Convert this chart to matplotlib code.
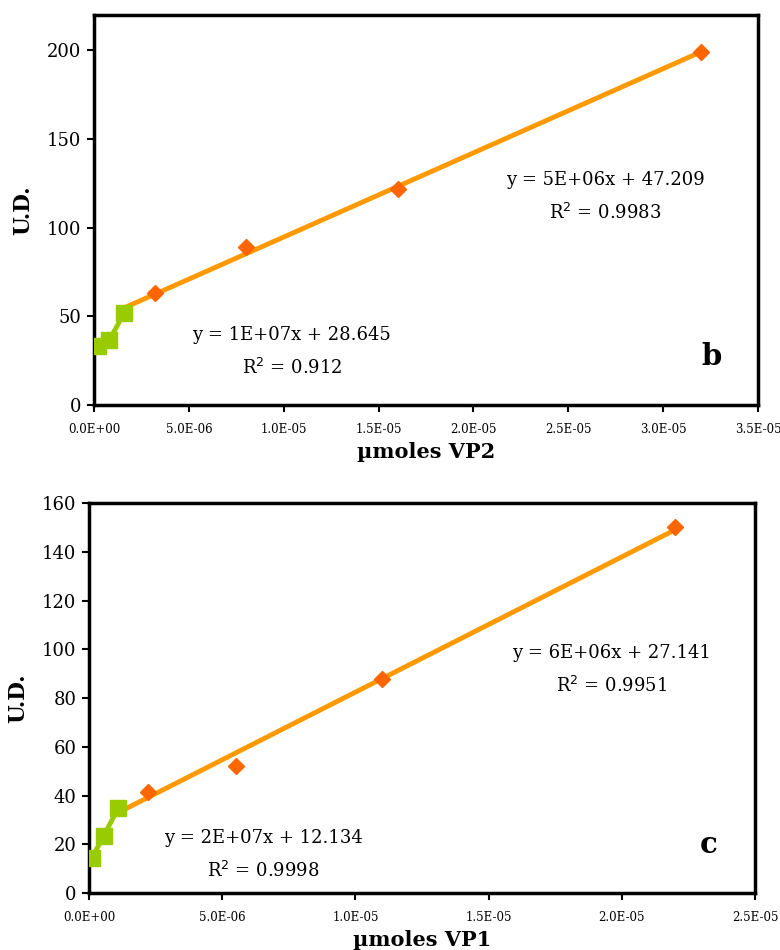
import numpy as np
import matplotlib.pyplot as plt
from matplotlib.ticker import FuncFormatter

plt.rcParams['font.family'] = ['DejaVu Serif']

# panel b: VP2
vp2_green_x = [2e-7, 8e-7, 1.6e-6]
vp2_green_y = [33, 36.5, 52]
vp2_orange_x = [1.6e-6, 3.2e-6, 8e-6, 1.6e-5, 3.2e-5]
vp2_orange_y = [52, 63, 89, 122, 199]
vp2_yticks = [0, 50, 100, 150, 200]
vp2_eq_low = ['y = 1E+07x + 28.645', 'R$^2$ = 0.912']
vp2_eq_high = ['y = 5E+06x + 47.209', 'R$^2$ = 0.9983']

# panel c: VP1
vp1_green_x = [1.1e-7, 5.5e-7, 1.1e-6]
vp1_green_y = [14.5, 23.3, 35]
vp1_orange_x = [1.1e-6, 2.2e-6, 5.5e-6, 1.1e-5, 2.2e-5]
vp1_orange_y = [35, 41.5, 52, 88, 150]
vp1_yticks = [0, 20, 40, 60, 80, 100, 120, 140, 160]
vp1_eq_low = ['y = 2E+07x + 12.134', 'R$^2$ = 0.9998']
vp1_eq_high = ['y = 6E+06x + 27.141', 'R$^2$ = 0.9951']

GREEN = '#99CC00'
ORANGE_LINE = '#FF9900'
ORANGE_PT = '#FF6600'


def sci(v, pos):
    if v == 0:
        return '0.0E+00'
    s = '%.1E' % v
    mant, exp = s.split('E')
    return '%sE%s%02d' % (mant, exp[0], abs(int(exp)))


def panel(ax, gx, gy, ox, oy, xmax, ymax, yticks, xlabel, eq_low, eq_high,
          pos_low, pos_high, letter):
    # trendline over the orange series
    k, b = np.polyfit(ox, oy, 1)
    xs = np.array([min(ox), max(ox)])
    ax.plot(xs, k * xs + b, color=ORANGE_LINE, lw=3.5, zorder=2)
    ax.plot(ox[1:], oy[1:], 'D', color=ORANGE_PT, ms=8, zorder=3)
    ax.plot(gx, gy, 's-', color=GREEN, lw=3.5, ms=11, zorder=4)

    ax.set_xlim(0, xmax)
    ax.set_ylim(0, ymax)
    ax.set_xticks(np.arange(0, xmax + 1e-9, 5e-6))
    ax.set_yticks(yticks)
    ax.xaxis.set_major_formatter(FuncFormatter(sci))
    ax.tick_params(axis='x', labelsize=8.5, length=5, width=1.5, pad=8)
    ax.tick_params(axis='y', labelsize=13, length=5, width=1.5, pad=4)
    for s in ax.spines.values():
        s.set_linewidth(2.5)
    ax.set_xlabel(xlabel, fontsize=15, fontweight='bold', labelpad=4)
    ax.set_ylabel('U.D.', fontsize=15.5, fontweight='bold', labelpad=9)

    for (x, y), lines in ((pos_low, eq_low), (pos_high, eq_high)):
        ax.text(x, y, lines[0], transform=ax.transAxes, ha='center',
                va='center', fontsize=13)
        ax.text(x, y - 0.085, lines[1], transform=ax.transAxes,
                ha='center', va='center', fontsize=13)
    ax.text(0.93, 0.125, letter, transform=ax.transAxes, ha='center',
            va='center', fontsize=21, fontweight='bold')


fig = plt.figure(figsize=(7.8, 9.5), dpi=100)
ax1 = fig.add_axes([0.1205, 0.5737, 0.8513, 0.4105])
ax2 = fig.add_axes([0.1141, 0.0600, 0.8538, 0.4105])

panel(ax1, vp2_green_x, vp2_green_y, vp2_orange_x, vp2_orange_y,
      3.5e-5, 220, vp2_yticks, 'µmoles VP2', vp2_eq_low, vp2_eq_high,
      (0.298, 0.18), (0.77, 0.578), 'b')
panel(ax2, vp1_green_x, vp1_green_y, vp1_orange_x, vp1_orange_y,
      2.5e-5, 160, vp1_yticks, 'µmoles VP1', vp1_eq_low, vp1_eq_high,
      (0.262, 0.142), (0.785, 0.616), 'c')

fig.savefig('out.png', dpi=100)
